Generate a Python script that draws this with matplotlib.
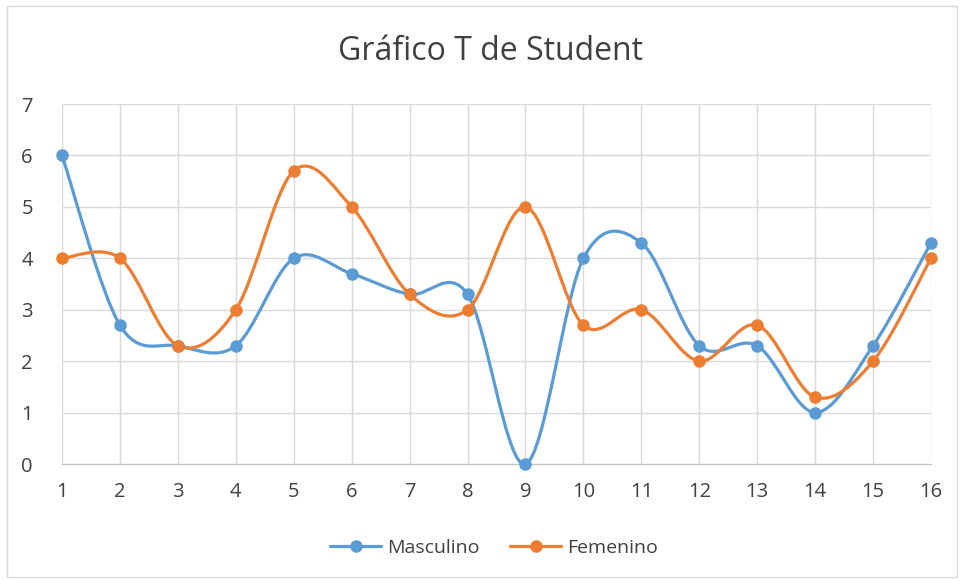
import numpy as np
import matplotlib.pyplot as plt
from matplotlib.path import Path
from matplotlib.patches import PathPatch, Rectangle
from matplotlib.lines import Line2D

plt.rcParams['font.family'] = ['Open Sans', 'DejaVu Sans']

# data
x = [1, 2, 3, 4, 5, 6, 7, 8, 9, 10, 11, 12, 13, 14, 15, 16]
masculino = [6, 2.7, 2.3, 2.3, 4, 3.7, 3.3, 3.3, 0, 4, 4.3, 2.3, 2.3, 1, 2.3, 4.3]
femenino = [4, 4, 2.3, 3, 5.7, 5, 3.3, 3, 5, 2.7, 3, 2, 2.7, 1.3, 2, 4]
labels = ['Masculino', 'Femenino']
colors = ['#5B9BD5', '#ED7D31']

txt = '#404040'
grid = '#D9D9D9'


def smooth_path(xs, ys):
    # Excel-like smoothed line: cubic Bezier segments (Catmull-Rom control points)
    p = np.column_stack((xs, ys)).astype(float)
    n = len(p)
    verts = [p[0]]
    codes = [Path.MOVETO]
    for i in range(n - 1):
        p0 = p[i - 1] if i > 0 else p[i]
        p1 = p[i]
        p2 = p[i + 1]
        p3 = p[i + 2] if i + 2 < n else p[i + 1]
        c1 = p1 + (p2 - p0) / 6.0
        c2 = p2 - (p3 - p1) / 6.0
        verts += [c1, c2, p2]
        codes += [Path.CURVE4] * 3
    return Path(verts, codes)


fig = plt.figure(figsize=(9.61, 5.81), dpi=100)
fig.patches.append(Rectangle((7 / 961, 4 / 581), 950 / 961, 571 / 581, transform=fig.transFigure,
                             fill=False, edgecolor='#D9D9D9', lw=1))

ax = fig.add_axes([62 / 961, 1 - 464 / 581, (931 - 62) / 961, (464 - 104) / 581])
ax.set_xlim(1, 16)
ax.set_ylim(0, 7)
ax.set_xticks(x)
ax.set_yticks(range(8))
ax.grid(True, color=grid, lw=1)
ax.set_axisbelow(True)
for s in ['top', 'right', 'left']:
    ax.spines[s].set_visible(False)
ax.spines['bottom'].set_color('#BFBFBF')
ax.tick_params(length=0, labelsize=14.5, labelcolor=txt)
ax.tick_params(axis='x', pad=13)
ax.tick_params(axis='y', pad=21)

handles = []
for ys, c, lab in zip([masculino, femenino], colors, labels):
    ax.add_patch(PathPatch(smooth_path(x, ys), fill=False, edgecolor=c, lw=2.3,
                           capstyle='round', joinstyle='round', clip_on=False, zorder=3))
    ax.plot(x, ys, 'o', color=c, markersize=8, clip_on=False, zorder=4)
    handles.append(Line2D([], [], color=c, lw=2.3, marker='o', markersize=8,
                          solid_capstyle='round'))

fig.text(491 / 961, 1 - 52 / 581, 'Gráfico T de Student', ha='center', va='center',
         fontsize=23, color=txt)

fig.legend(handles, labels, loc='center', bbox_to_anchor=(494 / 961, 1 - 548 / 581),
           ncol=2, frameon=False, fontsize=14, labelcolor=txt, handlelength=2.6,
           handletextpad=0.3, columnspacing=1.6)

plt.savefig('out.png', dpi=100)
